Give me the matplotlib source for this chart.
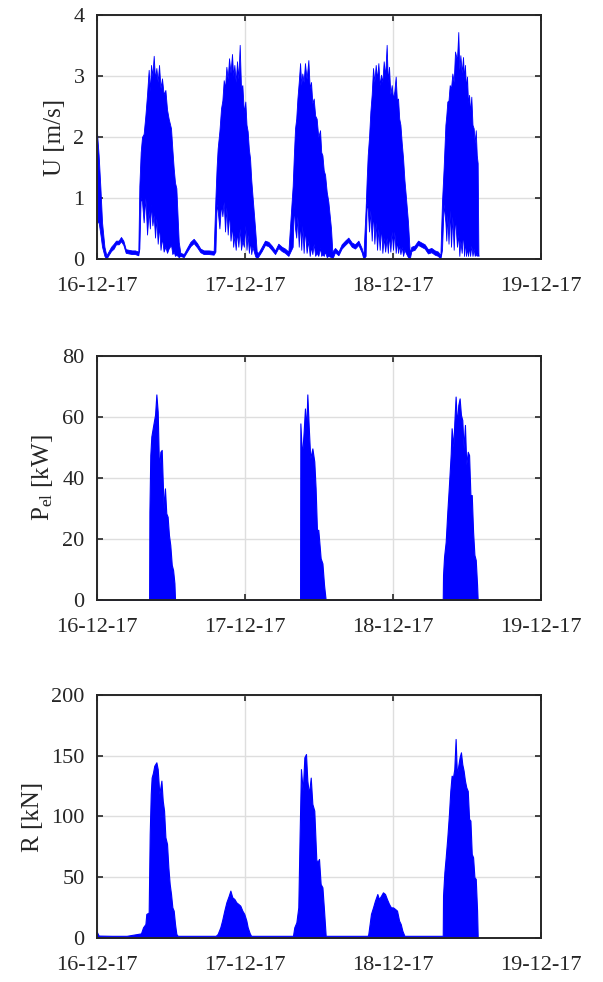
import numpy as np
import matplotlib.pyplot as plt

# time axis in days after 16-12-17 00:00
date_ticks = [0, 1, 2, 3]
date_labels = ["16-12-17", "17-12-17", "18-12-17", "19-12-17"]

# flow speed U [m/s]: upper and lower envelope of the dense signal
u_t = [0.000, 0.011, 0.023, 0.034, 0.050, 0.063,
       0.077, 0.095, 0.113, 0.128, 0.146, 0.162, 0.178, 0.194, 0.214, 0.236, 0.257, 0.279,
       0.286, 0.295, 0.304, 0.315, 0.327, 0.338, 0.349, 0.357, 0.365, 0.374, 0.383, 0.392,
       0.401, 0.410, 0.419, 0.429, 0.439, 0.450, 0.462, 0.473, 0.484,
       0.500, 0.509, 0.518, 0.527, 0.536, 0.552,
       0.563, 0.586, 0.608, 0.631, 0.653, 0.676, 0.698, 0.721, 0.755, 0.788,
       0.800, 0.808, 0.815, 0.827, 0.838, 0.847, 0.856, 0.865, 0.874, 0.883, 0.892,
       0.902, 0.912, 0.920, 0.928, 0.937, 0.946, 0.955, 0.964, 0.973, 0.982,
       0.992, 1.002, 1.010, 1.018, 1.026, 1.034, 1.042, 1.050, 1.068, 1.079,
       1.090, 1.113, 1.135, 1.158, 1.180, 1.203, 1.225, 1.248, 1.270, 1.293,
       1.322, 1.330, 1.338, 1.346, 1.354, 1.363, 1.372, 1.380, 1.387, 1.396, 1.405,
       1.416, 1.428, 1.437, 1.446, 1.455, 1.464, 1.474, 1.484, 1.495, 1.507,
       1.515, 1.523, 1.532, 1.541, 1.552, 1.563, 1.581, 1.590,
       1.608, 1.631, 1.653, 1.676, 1.698, 1.721, 1.743, 1.766, 1.788, 1.800,
       1.815, 1.822, 1.829, 1.838, 1.847, 1.856, 1.865, 1.874, 1.883, 1.892, 1.901,
       1.910, 1.919, 1.928, 1.937, 1.947, 1.957, 1.965, 1.973, 1.982, 1.991,
       2.000, 2.009, 2.018, 2.026, 2.034, 2.042, 2.050, 2.059, 2.068, 2.077, 2.086,
       2.101, 2.113,
       2.124, 2.146, 2.169, 2.191, 2.214, 2.236, 2.259, 2.282, 2.304, 2.320,
       2.331, 2.342, 2.354, 2.360, 2.367, 2.375, 2.383, 2.392, 2.401, 2.410, 2.419,
       2.432, 2.441, 2.448, 2.455, 2.464, 2.473, 2.480, 2.486, 2.493, 2.500, 2.507,
       2.514, 2.521, 2.529, 2.537, 2.545, 2.552, 2.559, 2.566, 2.572, 2.577]
u_hi = [2.06, 1.70, 1.16, 0.60, 0.20, 0.06,
        0.12, 0.20, 0.25, 0.30, 0.30, 0.36, 0.30, 0.16, 0.15, 0.14, 0.14, 0.12,
        1.20, 1.75, 2.00, 2.05, 2.36, 2.70, 3.10, 2.75, 3.18, 3.00, 3.33, 2.95,
        3.13, 2.90, 3.18, 2.80, 2.96, 2.70, 2.77, 2.45, 2.30,
        2.14, 1.80, 1.49, 1.25, 1.16, 0.28,
        0.10, 0.08, 0.18, 0.28, 0.33, 0.26, 0.17, 0.14, 0.14, 0.13,
        1.00, 1.50, 1.81, 2.10, 2.47, 2.60, 2.93, 2.80, 3.15, 2.95, 3.29,
        3.05, 3.36, 3.00, 3.18, 2.90, 3.24, 2.95, 3.51, 2.80, 2.85,
        2.40, 2.58, 2.20, 2.09, 1.80, 1.65, 1.30, 1.05, 0.50, 0.12,
        0.10, 0.20, 0.30, 0.28, 0.22, 0.14, 0.25, 0.20, 0.17, 0.12,
        1.20, 1.70, 2.14, 2.30, 2.63, 2.90, 3.21, 2.85, 3.04, 2.90, 3.21,
        2.95, 3.26, 2.80, 2.90, 2.55, 2.63, 2.35, 2.30, 2.00, 2.11,
        1.75, 1.70, 1.45, 1.38, 1.10, 0.94, 0.50, 0.12,
        0.18, 0.12, 0.24, 0.30, 0.35, 0.27, 0.24, 0.30, 0.18, 0.06,
        0.83, 1.30, 1.70, 2.00, 2.42, 2.70, 3.13, 2.90, 3.18, 2.95, 3.21,
        2.85, 3.02, 2.90, 3.24, 3.00, 3.51, 2.90, 3.15, 2.70, 2.85,
        2.63, 2.75, 2.99, 2.60, 2.63, 2.30, 2.20, 1.90, 1.65, 1.30, 1.05,
        0.61, 0.10,
        0.20, 0.22, 0.30, 0.27, 0.24, 0.16, 0.18, 0.14, 0.12, 0.06,
        0.94, 1.49, 2.20, 2.35, 2.58, 2.60, 2.85, 2.80, 3.04, 2.90, 3.40,
        3.26, 3.72, 3.10, 3.34, 3.05, 3.31, 2.95, 3.18, 2.80, 2.99, 2.55,
        2.69, 2.40, 2.66, 2.20, 2.14, 1.90, 2.11, 1.70, 1.57, 0.08]
u_lo = [0.60, 0.60, 0.40, 0.20, 0.05, 0.00,
        0.06, 0.13, 0.17, 0.24, 0.24, 0.29, 0.23, 0.10, 0.09, 0.08, 0.08, 0.06,
        0.17, 1.00, 0.94, 0.60, 1.00, 0.40, 0.80, 0.50, 0.90, 0.55, 0.72, 0.35,
        0.67, 0.25, 0.55, 0.15, 0.35, 0.12, 0.20, 0.10, 0.17,
        0.23, 0.08, 0.12, 0.05, 0.07, 0.03,
        0.05, 0.03, 0.12, 0.21, 0.26, 0.19, 0.11, 0.08, 0.08, 0.07,
        0.12, 0.90, 0.80, 0.50, 0.90, 0.70, 0.94, 0.45, 0.85, 0.40, 0.78,
        0.30, 0.55, 0.20, 0.39, 0.15, 0.45, 0.20, 0.50, 0.15, 0.30,
        0.20, 0.55, 0.15, 0.40, 0.10, 0.30, 0.08, 0.20, 0.05, 0.00,
        0.04, 0.13, 0.23, 0.21, 0.15, 0.08, 0.18, 0.13, 0.10, 0.05,
        0.20, 0.90, 0.50, 0.35, 0.70, 0.20, 0.61, 0.15, 0.55, 0.10, 0.50,
        0.10, 0.30, 0.05, 0.20, 0.08, 0.25, 0.05, 0.10, 0.05, 0.18,
        0.05, 0.08, 0.05, 0.12, 0.03, 0.05, 0.03, 0.00,
        0.11, 0.06, 0.17, 0.23, 0.28, 0.20, 0.17, 0.23, 0.11, 0.00,
        0.05, 0.90, 0.83, 0.45, 0.80, 0.30, 0.78, 0.25, 0.60, 0.15, 0.50,
        0.15, 0.55, 0.10, 0.35, 0.12, 0.35, 0.10, 0.40, 0.12, 0.45,
        0.15, 0.45, 0.10, 0.30, 0.10, 0.23, 0.08, 0.20, 0.05, 0.15, 0.10,
        0.03, 0.00,
        0.13, 0.15, 0.23, 0.20, 0.17, 0.09, 0.11, 0.07, 0.05, 0.00,
        0.15, 0.90, 0.60, 0.30, 0.72, 0.25, 0.80, 0.20, 0.70, 0.15, 0.70,
        0.20, 0.40, 0.05, 0.30, 0.10, 0.45, 0.05, 0.30, 0.05, 0.17, 0.05,
        0.20, 0.05, 0.22, 0.05, 0.17, 0.05, 0.08, 0.05, 0.10, 0.05]

# electrical power P_el [kW]: upper envelope (signal goes down to 0)
p_t = [0.000, 0.352,
       0.354, 0.360, 0.367, 0.378, 0.392, 0.401, 0.410, 0.419, 0.428, 0.437, 0.450,
       0.459, 0.468, 0.477, 0.486, 0.495, 0.505, 0.514, 0.523, 0.527,
       1.372, 1.374, 1.385, 1.396, 1.405, 1.414, 1.421, 1.432, 1.441, 1.455, 1.468,
       1.477, 1.486, 1.495, 1.500, 1.511, 1.523, 1.534, 1.545,
       2.336, 2.338, 2.345, 2.356, 2.367, 2.378, 2.390, 2.396, 2.408, 2.414, 2.423,
       2.432, 2.441, 2.450, 2.459, 2.468, 2.477, 2.486, 2.495, 2.505, 2.514, 2.523,
       2.532, 2.541, 2.550, 2.559, 2.568, 2.572]
p_hi = [0.0, 0.0,
        29.0, 47.5, 53.6, 56.8, 60.7, 67.4, 61.7, 42.6, 48.6, 49.2, 30.0,
        36.6, 28.4, 27.3, 21.3, 18.0, 11.5, 9.8, 5.5, 0.0,
        0.0, 57.9, 47.0, 55.0, 62.8, 56.0, 67.4, 55.2, 46.4, 49.7, 45.4,
        36.6, 23.0, 23.0, 20.2, 13.7, 12.0, 4.9, 0.0,
        0.0, 8.2, 14.2, 19.1, 29.0, 37.7, 48.0, 56.3, 50.3, 57.9, 66.7,
        57.4, 63.9, 66.1, 60.7, 59.0, 49.7, 57.4, 44.3, 48.6, 47.5, 34.4,
        34.4, 22.4, 14.8, 13.1, 4.9, 0.0]

# rotor thrust R [kN]: upper envelope
r_t = [0.000, 0.011, 0.100, 0.200,
       0.297, 0.311, 0.327, 0.333, 0.349, 0.356, 0.363, 0.369, 0.378, 0.387, 0.401,
       0.410, 0.421, 0.435, 0.444, 0.453, 0.462, 0.473, 0.482, 0.491, 0.500, 0.509,
       0.518, 0.527, 0.536, 0.545, 0.650,
       0.802, 0.815, 0.833, 0.845, 0.860, 0.874, 0.890, 0.901, 0.914, 0.928, 0.941,
       0.955, 0.968, 0.982, 0.995, 1.009, 1.018, 1.032, 1.041, 1.200,
       1.324, 1.333, 1.347, 1.360, 1.369, 1.378, 1.390, 1.401, 1.412, 1.421, 1.432,
       1.444, 1.455, 1.468, 1.482, 1.495, 1.500, 1.511, 1.523, 1.534, 1.545, 1.700,
       1.829, 1.833, 1.842, 1.851, 1.865, 1.878, 1.894, 1.905, 1.919, 1.932, 1.946,
       1.959, 1.973, 1.986, 2.000, 2.014, 2.027, 2.041, 2.052, 2.063, 2.077, 2.200,
       2.336, 2.338, 2.347, 2.356, 2.367, 2.378, 2.387, 2.396, 2.405, 2.414, 2.423,
       2.432, 2.441, 2.450, 2.459, 2.468, 2.477, 2.486, 2.495, 2.505, 2.514, 2.523,
       2.532, 2.541, 2.550, 2.559, 2.568, 2.572]
r_hi = [4.7, 2.0, 1.8, 1.8,
        3.8, 8.8, 11.5, 19.8, 21.0, 85.6, 118.5, 132.0, 136.0, 141.8, 144.6,
        139.0, 118.5, 129.5, 113.0, 104.8, 82.9, 77.4, 58.2, 44.4, 36.2, 25.2,
        22.5, 11.5, 3.3, 1.8, 1.8,
        1.8, 3.3, 8.8, 14.3, 22.5, 29.4, 34.8, 39.0, 33.5, 32.1, 29.4,
        28.0, 26.6, 22.5, 19.8, 14.3, 8.8, 3.8, 1.8, 1.8,
        1.8, 8.8, 12.9, 25.2, 85.6, 139.0, 121.0, 148.7, 151.4, 129.5, 118.5,
        132.0, 110.3, 104.8, 63.6, 63.6, 65.0, 44.4, 41.7, 22.5, 1.8, 1.8,
        1.8, 3.3, 11.5, 19.8, 25.2, 30.7, 36.2, 32.0, 34.8, 37.6, 36.2,
        32.0, 28.0, 25.2, 25.2, 23.9, 22.5, 14.3, 11.5, 6.0, 1.8, 1.8,
        1.8, 34.8, 54.0, 66.4, 82.9, 102.0, 121.0, 133.6, 132.0, 139.0, 163.8,
        133.6, 141.8, 148.7, 152.8, 143.0, 137.7, 129.5, 124.0, 121.0, 98.0, 96.6,
        69.1, 66.4, 50.0, 48.6, 22.5, 1.8]

plt.rcParams["font.family"] = ["Liberation Serif", "DejaVu Serif"]
plt.rcParams["mathtext.fontset"] = "custom"
plt.rcParams["mathtext.rm"] = "Liberation Serif"
plt.rcParams["mathtext.it"] = "Liberation Serif:italic"

BLUE = "#0000FF"
DARK = "#262626"

fig = plt.figure(figsize=(6.03, 9.82), dpi=100)
ax_u = fig.add_axes([0.1609, 0.7363, 0.7363, 0.2485])
ax_p = fig.add_axes([0.1609, 0.3890, 0.7363, 0.2485])
ax_r = fig.add_axes([0.1609, 0.0448, 0.7363, 0.2475])

ax_u.fill_between(u_t, u_lo, u_hi, color=BLUE, lw=0.6)
ax_p.fill_between(p_t, 0, p_hi, color=BLUE, lw=0.8)
ax_r.fill_between(r_t, 0, r_hi, color=BLUE, lw=0.8)

panels = [
    (ax_u, "U [m/s]", 4, [0, 1, 2, 3, 4]),
    (ax_p, r"P$_{\mathrm{el}}$ [kW]", 80, [0, 20, 40, 60, 80]),
    (ax_r, "R [kN]", 200, [0, 50, 100, 150, 200]),
]
for ax, label, ymax, yticks in panels:
    ax.set_xlim(0, 3)
    ax.set_ylim(0, ymax)
    ax.set_xticks(date_ticks)
    ax.set_xticklabels(date_labels)
    ax.set_yticks(yticks)
    ax.set_ylabel(label, fontsize=18, color=DARK, labelpad=5)
    ax.grid(True, color="#dedede", lw=1.0)
    ax.set_axisbelow(True)
    ax.tick_params(direction="in", length=4.5, width=1.2, top=True, right=True,
                   labelsize=16, colors=DARK)
    ax.tick_params(axis="y", pad=9)
    ax.tick_params(axis="x", pad=13)
    for s in ax.spines.values():
        s.set_color(DARK)
        s.set_linewidth(1.4)
        s.set_zorder(5)

fig.savefig("out.png", dpi=100, facecolor="white")
